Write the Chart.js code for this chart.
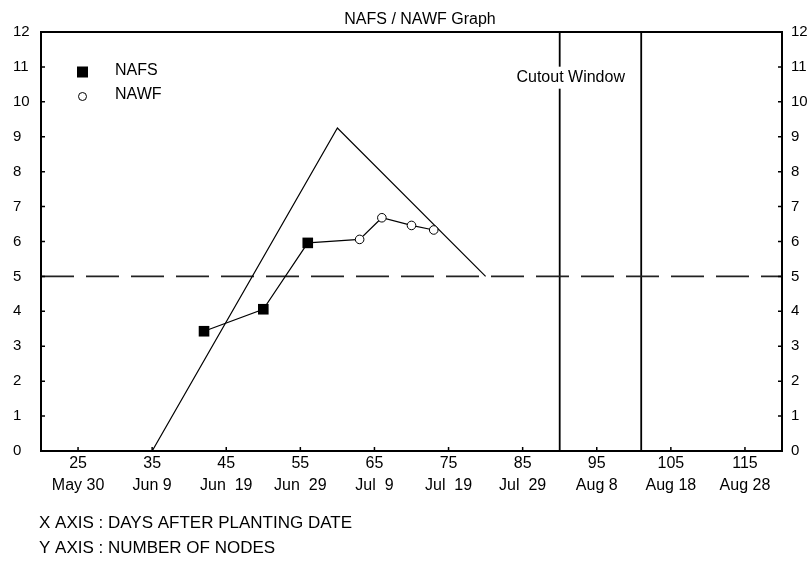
<!DOCTYPE html>
<html>
<head>
<meta charset="utf-8">
<script src="https://cdn.jsdelivr.net/npm/chart.js@4"></script>
<style>
  html, body { margin: 0; padding: 0; background: #fff; }
  #wrap { width: 808px; height: 565px; position: relative; }
</style>
</head>
<body>
<div id="wrap"><canvas id="c" width="808" height="565"></canvas></div>
<script>
// ---- data ----
const xTickDays = [25, 35, 45, 55, 65, 75, 85, 95, 105, 115];
const xTickDates = ['May 30', 'Jun 9', 'Jun  19', 'Jun  29', 'Jul  9', 'Jul  19', 'Jul  29', 'Aug 8', 'Aug 18', 'Aug 28'];
const yTicks = [0,1,2,3,4,5,6,7,8,9,10,11,12];

const nafsDays = [42, 50, 56];
const nafsNodes = [3.43, 4.06, 5.96];

const nawfDays = [63, 66, 70, 73];
const nawfNodes = [6.06, 6.68, 6.46, 6.33];

const targetDays = [35, 60, 80];
const targetNodes = [0, 9.25, 5];

const thresholdDays = [20, 120];
const thresholdNodes = [5, 5];

const cutoutStart = 90;
const cutoutEnd = 101;

const titleText = 'NAFS / NAWF Graph';
const noteX = 'X AXIS : DAYS AFTER PLANTING DATE';
const noteY = 'Y AXIS : NUMBER OF NODES';
const cutoutLabel = 'Cutout Window';

// ---- build datasets ----
const pts = (xs, ys) => xs.map((x, i) => ({x: x, y: ys[i]}));
const nafsPts = pts(nafsDays, nafsNodes);
const nawfLine = [nafsPts[nafsPts.length - 1]].concat(pts(nawfDays, nawfNodes));

const FONT = '"Liberation Sans", Arial, sans-serif';

const overlay = {
  id: 'overlay',
  afterDatasetsDraw(chart) {
    const ctx = chart.ctx;
    const xs = chart.scales.x, ys = chart.scales.y;
    ctx.save();
    // cutout label with white background, sitting across the first cutout line
    const cx = xs.getPixelForValue(cutoutStart) + 11;
    const ty = ys.getPixelForValue(10.72) + 1;
    ctx.font = '16px ' + FONT;
    const w = ctx.measureText(cutoutLabel).width;
    ctx.fillStyle = '#fff';
    ctx.fillRect(cx - w / 2 - 2, ty - 11, w + 4, 22);
    ctx.fillStyle = '#000';
    ctx.textAlign = 'center';
    ctx.textBaseline = 'middle';
    ctx.fillText(cutoutLabel, cx, ty);
    ctx.restore();
  },
  afterDraw(chart) {
    const ctx = chart.ctx;
    const a = chart.chartArea;
    const xs = chart.scales.x, ys = chart.scales.y;
    ctx.save();
    // frame
    ctx.strokeStyle = '#000';
    ctx.lineWidth = 2;
    ctx.strokeRect(a.left, a.top, a.right - a.left, a.bottom - a.top);
    // inner ticks
    ctx.lineWidth = 1.5;
    ctx.beginPath();
    yTicks.forEach(v => {
      const py = ys.getPixelForValue(v);
      ctx.moveTo(a.left, py); ctx.lineTo(a.left + 4, py);
      ctx.moveTo(a.right, py); ctx.lineTo(a.right - 4, py);
    });
    xTickDays.forEach(v => {
      const px = xs.getPixelForValue(v);
      ctx.moveTo(px, a.bottom); ctx.lineTo(px, a.bottom - 4);
    });
    ctx.stroke();
    // title
    ctx.fillStyle = '#000';
    ctx.font = '16px ' + FONT;
    ctx.textBaseline = 'middle';
    ctx.textAlign = 'center';
    ctx.fillText(titleText, 420, 20);
    // legend
    ctx.textAlign = 'left';
    ctx.fillRect(77, 66.5, 11, 11);
    ctx.fillText('NAFS', 115, 71);
    ctx.beginPath();
    ctx.lineWidth = 1;
    ctx.fillStyle = '#fff';
    ctx.arc(82.5, 96.5, 4, 0, Math.PI * 2);
    ctx.fill(); ctx.stroke();
    ctx.fillStyle = '#000';
    ctx.fillText('NAWF', 115, 95);
    // notes
    ctx.font = '17px ' + FONT;
    ctx.fillText(noteX, 39, 523);
    ctx.fillText(noteY, 39, 548);
    ctx.restore();
  }
};

new Chart(document.getElementById('c'), {
  type: 'scatter',
  data: {
    datasets: [
      {
        label: 'NAFS', data: nafsPts, showLine: true,
        borderColor: '#000', borderWidth: 1.2,
        pointStyle: 'rect', pointRadius: 7.5, pointBackgroundColor: '#000', pointBorderColor: '#000', pointBorderWidth: 0
      },
      {
        label: 'NAWF', data: nawfLine, showLine: true,
        borderColor: '#000', borderWidth: 1.2,
        pointStyle: 'circle',
        pointRadius: c => c.dataIndex === 0 ? 0 : 4.3,
        pointBackgroundColor: '#fff', pointBorderColor: '#000', pointBorderWidth: 1
      },
      {
        label: 'Target', data: pts(targetDays, targetNodes), showLine: true,
        borderColor: '#000', borderWidth: 1.2, pointRadius: 0
      },
      {
        label: 'Threshold', data: pts(thresholdDays, thresholdNodes), showLine: true,
        borderColor: '#222', borderWidth: 1.6, borderDash: [33, 12], pointRadius: 0
      },
      {
        label: 'Cutout start', data: [{x: cutoutStart, y: 0}, {x: cutoutStart, y: 12}], showLine: true,
        borderColor: '#000', borderWidth: 1.8, pointRadius: 0
      },
      {
        label: 'Cutout end', data: [{x: cutoutEnd, y: 0}, {x: cutoutEnd, y: 12}], showLine: true,
        borderColor: '#000', borderWidth: 1.8, pointRadius: 0
      }
    ]
  },
  options: {
    responsive: false,
    animation: false,
    devicePixelRatio: 1,
    layout: { padding: { top: 32, left: 13, right: 0, bottom: 64 } },
    plugins: { legend: { display: false }, tooltip: { enabled: false }, title: { display: false } },
    scales: {
      x: {
        type: 'linear', min: 20, max: 120,
        afterBuildTicks: s => { s.ticks = xTickDays.map(v => ({value: v})); },
        afterFit: s => { s.height = 50; },
        grid: { display: false, drawTicks: false },
        border: { display: false },
        ticks: {
          color: '#000', padding: 2, maxRotation: 0, autoSkip: false,
          font: { family: FONT, size: 16, lineHeight: 1.35 },
          callback: (v) => { const i = xTickDays.indexOf(v); return i < 0 ? '' : [String(v), xTickDates[i]]; }
        }
      },
      y: {
        type: 'linear', position: 'left', min: 0, max: 12,
        afterBuildTicks: s => { s.ticks = yTicks.map(v => ({value: v})); },
        afterFit: s => { s.width = 28; },
        grid: { display: false, drawTicks: false },
        border: { display: false },
        ticks: { color: '#000', padding: 10, crossAlign: 'far', font: { family: FONT, size: 15 } }
      },
      y2: {
        type: 'linear', position: 'right', min: 0, max: 12,
        afterBuildTicks: s => { s.ticks = yTicks.map(v => ({value: v})); },
        afterFit: s => { s.width = 26; },
        grid: { display: false, drawTicks: false },
        border: { display: false },
        ticks: { color: '#000', padding: 9, font: { family: FONT, size: 15 } }
      }
    }
  },
  plugins: [overlay]
});
</script>
</body>
</html>
